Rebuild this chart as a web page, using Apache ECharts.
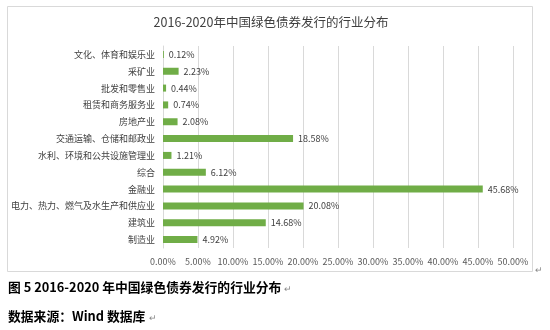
<!DOCTYPE html>
<html>
<head>
<meta charset="utf-8">
<script src="https://cdn.jsdelivr.net/npm/echarts@6/dist/echarts.min.js"></script>
<style>
html,body{margin:0;padding:0;background:#fff;}
#c{width:550px;height:330px;}
</style>
</head>
<body>
<div id="c"></div>
<script>
const categories = ['文化、体育和娱乐业','采矿业','批发和零售业','租赁和商务服务业','房地产业','交通运输、仓储和邮政业','水利、环境和公共设施管理业','综合','金融业','电力、热力、燃气及水生产和供应业','建筑业','制造业'];
const values = [0.12, 2.23, 0.44, 0.74, 2.08, 18.58, 1.21, 6.12, 45.68, 20.08, 14.68, 4.92];
const xTicks = [0, 5, 10, 15, 20, 25, 30, 35, 40, 45, 50];

const chart = echarts.init(document.getElementById('c'), null, {renderer:'canvas'});
const font = '"Noto Sans CJK SC", "Noto Sans", sans-serif';
chart.setOption({
  backgroundColor:'#fff',
  animation:false,
  title:[
    {text:'2016-2020年中国绿色债券发行的行业分布', left:271, top:16, textAlign:'center', padding:0,
     textStyle:{fontFamily:font, fontSize:12.5, fontWeight:'normal', color:'#404040'}},
    {text:'图 5 2016-2020 年中国绿色债券发行的行业分布', left:8, top:281, padding:0,
     textStyle:{fontFamily:font, fontSize:12.8, fontWeight:'bold', color:'#000'}},
    {text:'数据来源：Wind 数据库', left:8, top:310, padding:0,
     textStyle:{fontFamily:font, fontSize:12.8, fontWeight:'bold', color:'#000'}}
  ],
  graphic:[
    {type:'rect', shape:{x:7.5, y:6.5, width:525, height:265}, style:{fill:null, stroke:'#D9D9D9', lineWidth:1}, z:-1},
    {type:'text', left:535, top:266, style:{text:'↵', fill:'#888', fontSize:9}},
    {type:'text', left:284, top:285, style:{text:'↵', fill:'#888', fontSize:9}},
    {type:'text', left:149, top:314, style:{text:'↵', fill:'#888', fontSize:9}}
  ],
  grid:{left:163, right:37, top:46, bottom:82, containLabel:false, outerBoundsMode:'none'},
  xAxis:{
    type:'value', min:0, max:50, interval:5,
    axisLine:{show:false}, axisTick:{show:false},
    splitLine:{show:true, lineStyle:{color:'#D9D9D9', width:1}},
    axisLabel:{formatter:function(v){return v.toFixed(2)+'%';}, fontFamily:font, fontSize:9, color:'#595959', margin:9}
  },
  yAxis:{
    type:'category', data:categories, inverse:true,
    axisLine:{show:true, lineStyle:{color:'#D9D9D9'}}, axisTick:{show:false},
    axisLabel:{fontFamily:font, fontSize:9, color:'#404040', margin:8}
  },
  series:[{
    type:'bar', data:values, barWidth:7,
    itemStyle:{color:'#70AD47'},
    label:{show:true, position:'right', distance:5, formatter:function(p){return p.value.toFixed(2)+'%';},
      fontFamily:font, fontSize:9, color:'#404040'}
  }]
});
</script>
</body>
</html>
